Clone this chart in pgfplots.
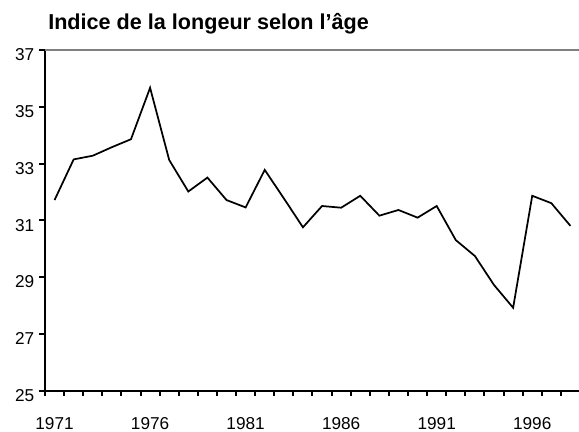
\documentclass[border=0pt]{standalone}
\usepackage{pgfplots}
\pgfplotsset{compat=1.18}
\usepackage{fontspec}
\setmainfont{Liberation Sans}
\definecolor{gridgray}{HTML}{808080}
\pgfplotstableread{
year val
1971 31.72
1972 33.15
1973 33.28
1974 33.58
1975 33.86
1976 35.67
1977 33.13
1978 32.02
1979 32.51
1980 31.72
1981 31.46
1982 32.78
1983 31.78
1984 30.76
1985 31.51
1986 31.45
1987 31.87
1988 31.17
1989 31.37
1990 31.10
1991 31.51
1992 30.31
1993 29.75
1994 28.73
1995 27.93
1996 31.87
1997 31.61
1998 30.81
}\datatable
\begin{document}
\begin{tikzpicture}
\path[use as bounding box] (0,0) rectangle (434.25pt,324pt);
\node[anchor=base west, inner sep=0pt, font=\fontsize{16.2}{18}\selectfont\bfseries] at (36pt,301.5pt) {Indice de la longeur selon l’âge};
\begin{axis}[
  at={(33.75pt,30.75pt)}, anchor=south west,
  scale only axis, width=401.25pt, height=255.75pt,
  xmin=1970.5, xmax=1998.5, ymin=25, ymax=37,
  axis x line=bottom, axis y line=left,
  axis line style={-, line width=1.5pt, black},
  xtick={1971,1976,1981,1986,1991,1996},
  xticklabels={1971,1976,1981,1986,1991,1996},
  major x tick style={draw=none},
  minor xtick={1970.5,1971.5,...,1998.5},
  minor x tick style={line width=1.5pt, black},
  minor tick length=3.75pt,
  xtick align=outside,
  ytick={25,27,29,31,33,35},
  yticklabels={25,27,29,31,33,35},
  extra y ticks={37},
  extra y tick labels={37},
  extra y tick style={grid=major, major grid style={gridgray, line width=1.5pt}},
  ytick align=outside,
  major tick length=4.5pt,
  y tick style={line width=1.5pt, black},
  tick label style={font=\fontsize{12.9}{14}\selectfont},
  yticklabel style={yshift=-3.5pt},
  xticklabel style={yshift=-12pt},
  clip=false,
]
\addplot[black, line width=1.3pt, no marks] table[x=year, y=val] {\datatable};
\end{axis}
\end{tikzpicture}
\end{document}
